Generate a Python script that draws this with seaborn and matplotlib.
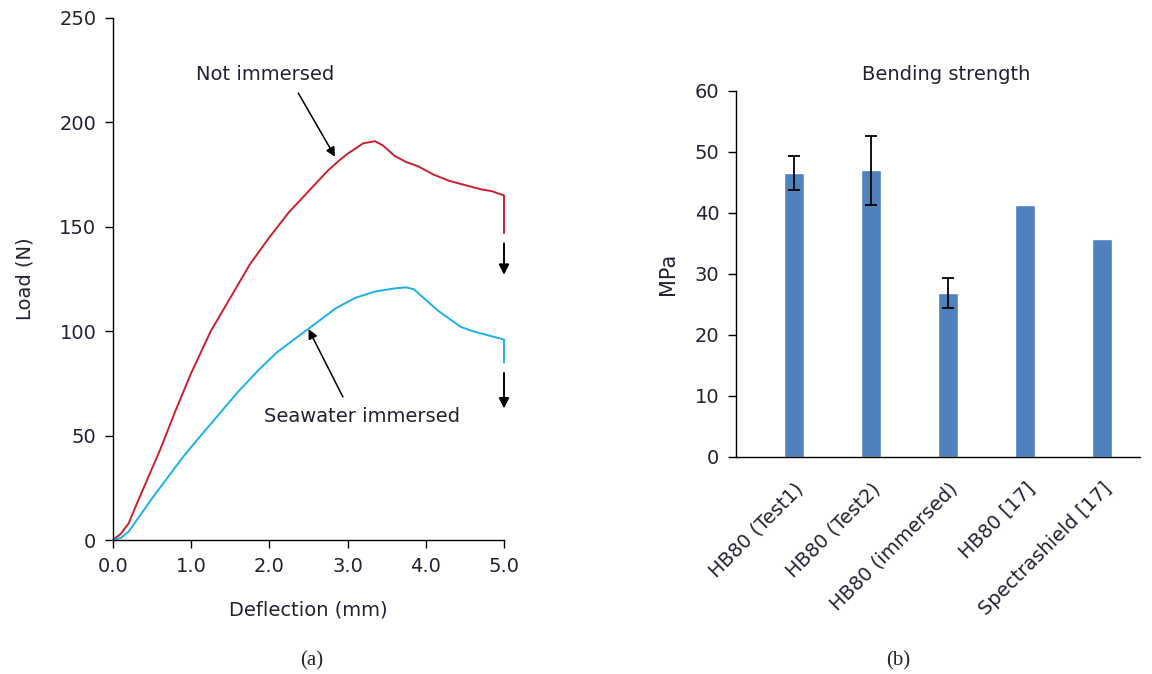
import matplotlib
matplotlib.use("Agg")
import matplotlib.pyplot as plt
import numpy as np
import pandas as pd
import seaborn as sns

# (a) load-deflection curves
not_imm_defl = [0, 0.1, 0.2, 0.3, 0.45, 0.6, 0.8, 1.0, 1.25, 1.5, 1.75, 2.0, 2.25, 2.5,
                2.75, 2.9, 3.0, 3.1, 3.2, 3.35, 3.45, 3.6, 3.75, 3.9, 4.1, 4.3, 4.5, 4.7,
                4.85, 5.0, 5.0]
not_imm_load = [0, 3, 8, 17, 30, 43, 62, 80, 100, 116, 132, 145, 157, 167,
                177, 182, 185, 187.5, 190, 191, 189, 184, 181, 179, 175, 172, 170, 168,
                167, 165, 147]
sea_defl = [0, 0.1, 0.2, 0.35, 0.5, 0.7, 0.9, 1.1, 1.35, 1.6, 1.85, 2.1, 2.35, 2.6,
            2.85, 3.1, 3.35, 3.6, 3.75, 3.85, 4.0, 4.15, 4.3, 4.45, 4.6, 4.8, 5.0, 5.0]
sea_load = [0, 1, 4, 12, 20, 30, 40, 49, 60, 71, 81, 90, 97, 104,
            111, 116, 119, 120.5, 121, 120, 115, 110, 106, 102, 100, 98, 96, 85]

# (b) bending strength
categories = ["HB80 (Test1)", "HB80 (Test2)", "HB80 (immersed)", "HB80 [17]", "Spectrashield [17]"]
strength = [46.6, 47.0, 26.85, 41.3, 35.7]
strength_err = [2.8, 5.65, 2.45, 0, 0]

RED = "#cc1f2e"
CYAN = "#1ab2ec"
BAR = "#4f81bd"
TXT = "#222233"
FS = 14

sns.set_theme(style="white")
plt.rcParams.update({
    "font.family": ["DejaVu Sans"],
    "axes.edgecolor": "black",
    "axes.linewidth": 1.0,
    "xtick.color": "black",
    "ytick.color": "black",
    "xtick.labelcolor": TXT,
    "ytick.labelcolor": TXT,
    "xtick.direction": "out",
    "ytick.direction": "out",
})

fig = plt.figure(figsize=(11.52, 6.74), dpi=100)

# ---- (a)
ax1 = fig.add_axes([0.0981, 0.1988, 0.3394, 0.7745])
df_a = pd.concat([
    pd.DataFrame({"defl": not_imm_defl, "load": not_imm_load, "case": "Not immersed"}),
    pd.DataFrame({"defl": sea_defl, "load": sea_load, "case": "Seawater immersed"}),
])
sns.lineplot(data=df_a, x="defl", y="load", hue="case", units="case",
             estimator=None, sort=False, palette=[RED, CYAN],
             linewidth=1.4, legend=False, ax=ax1)
ax1.set_xlim(0, 5)
ax1.set_ylim(0, 250)
ax1.set_xticks(np.arange(0, 5.01, 1.0))
ax1.set_xticklabels([f"{v:.1f}" for v in np.arange(0, 5.01, 1.0)])
ax1.set_yticks(np.arange(0, 251, 50))
ax1.tick_params(axis="both", labelsize=FS, length=6, width=1, pad=6,
                bottom=True, left=True)
ax1.set_xlabel("Deflection (mm)", fontsize=FS, color=TXT, labelpad=18)
ax1.set_ylabel("Load (N)", fontsize=FS, color=TXT, labelpad=18)
for sp in ["top", "right"]:
    ax1.spines[sp].set_visible(False)

arrow_kw = dict(arrowstyle="-|>", color="black", lw=1.1, mutation_scale=14,
                shrinkA=0, shrinkB=0)
ax1.text(1.94, 223, "Not immersed", fontsize=FS, color=TXT, ha="center", va="center")
ax1.annotate("", xy=(2.84, 183.5), xytext=(2.37, 214), arrowprops=arrow_kw)
ax1.text(3.18, 59, "Seawater immersed", fontsize=FS, color=TXT, ha="center", va="center")
ax1.annotate("", xy=(2.5, 101), xytext=(2.94, 68.5), arrowprops=arrow_kw)
drop_kw = dict(arrowstyle="-|>", color="black", lw=1.4, mutation_scale=15,
               shrinkA=0, shrinkB=0)
ax1.annotate("", xy=(5.0, 127), xytext=(5.0, 142), arrowprops=drop_kw,
             annotation_clip=False)
ax1.annotate("", xy=(5.0, 63), xytext=(5.0, 80), arrowprops=drop_kw,
             annotation_clip=False)
for ln in ax1.lines:
    ln.set_clip_on(False)

# ---- (b)
ax2 = fig.add_axes([0.639, 0.322, 0.351, 0.543])
df_b = pd.DataFrame({"cat": categories, "val": strength})
sns.barplot(data=df_b, x="cat", y="val", color=BAR, saturation=1, width=0.25,
            errorbar=None, ax=ax2)
idx = [i for i, e in enumerate(strength_err) if e > 0]
ax2.errorbar(idx, [strength[i] for i in idx], yerr=[strength_err[i] for i in idx],
             fmt="none", ecolor="black", elinewidth=1.3, capsize=4, capthick=1.3)
ax2.set_xlim(-0.75, 4.5)
ax2.set_ylim(0, 60)
ax2.set_yticks(np.arange(0, 61, 10))
ax2.tick_params(axis="y", labelsize=FS, length=6, width=1, pad=6, left=True)
ax2.tick_params(axis="x", labelsize=FS, length=0, pad=16)
ax2.set_xticks(range(len(categories)))
ax2.set_xticklabels(categories, rotation=45, ha="right", rotation_mode="anchor",
                    color=TXT)
ax2.set_xlabel("")
ax2.set_ylabel("MPa", fontsize=15, color=TXT, labelpad=12)
ax2.set_title("Bending strength", fontsize=FS, color=TXT, pad=8, x=0.52)
for sp in ["top", "right"]:
    ax2.spines[sp].set_visible(False)

fig.text(0.2708, 0.012, "(a)", fontsize=15, family="Liberation Serif", ha="center")
fig.text(0.7795, 0.012, "(b)", fontsize=15, family="Liberation Serif", ha="center")

fig.savefig("out.png", dpi=100)
